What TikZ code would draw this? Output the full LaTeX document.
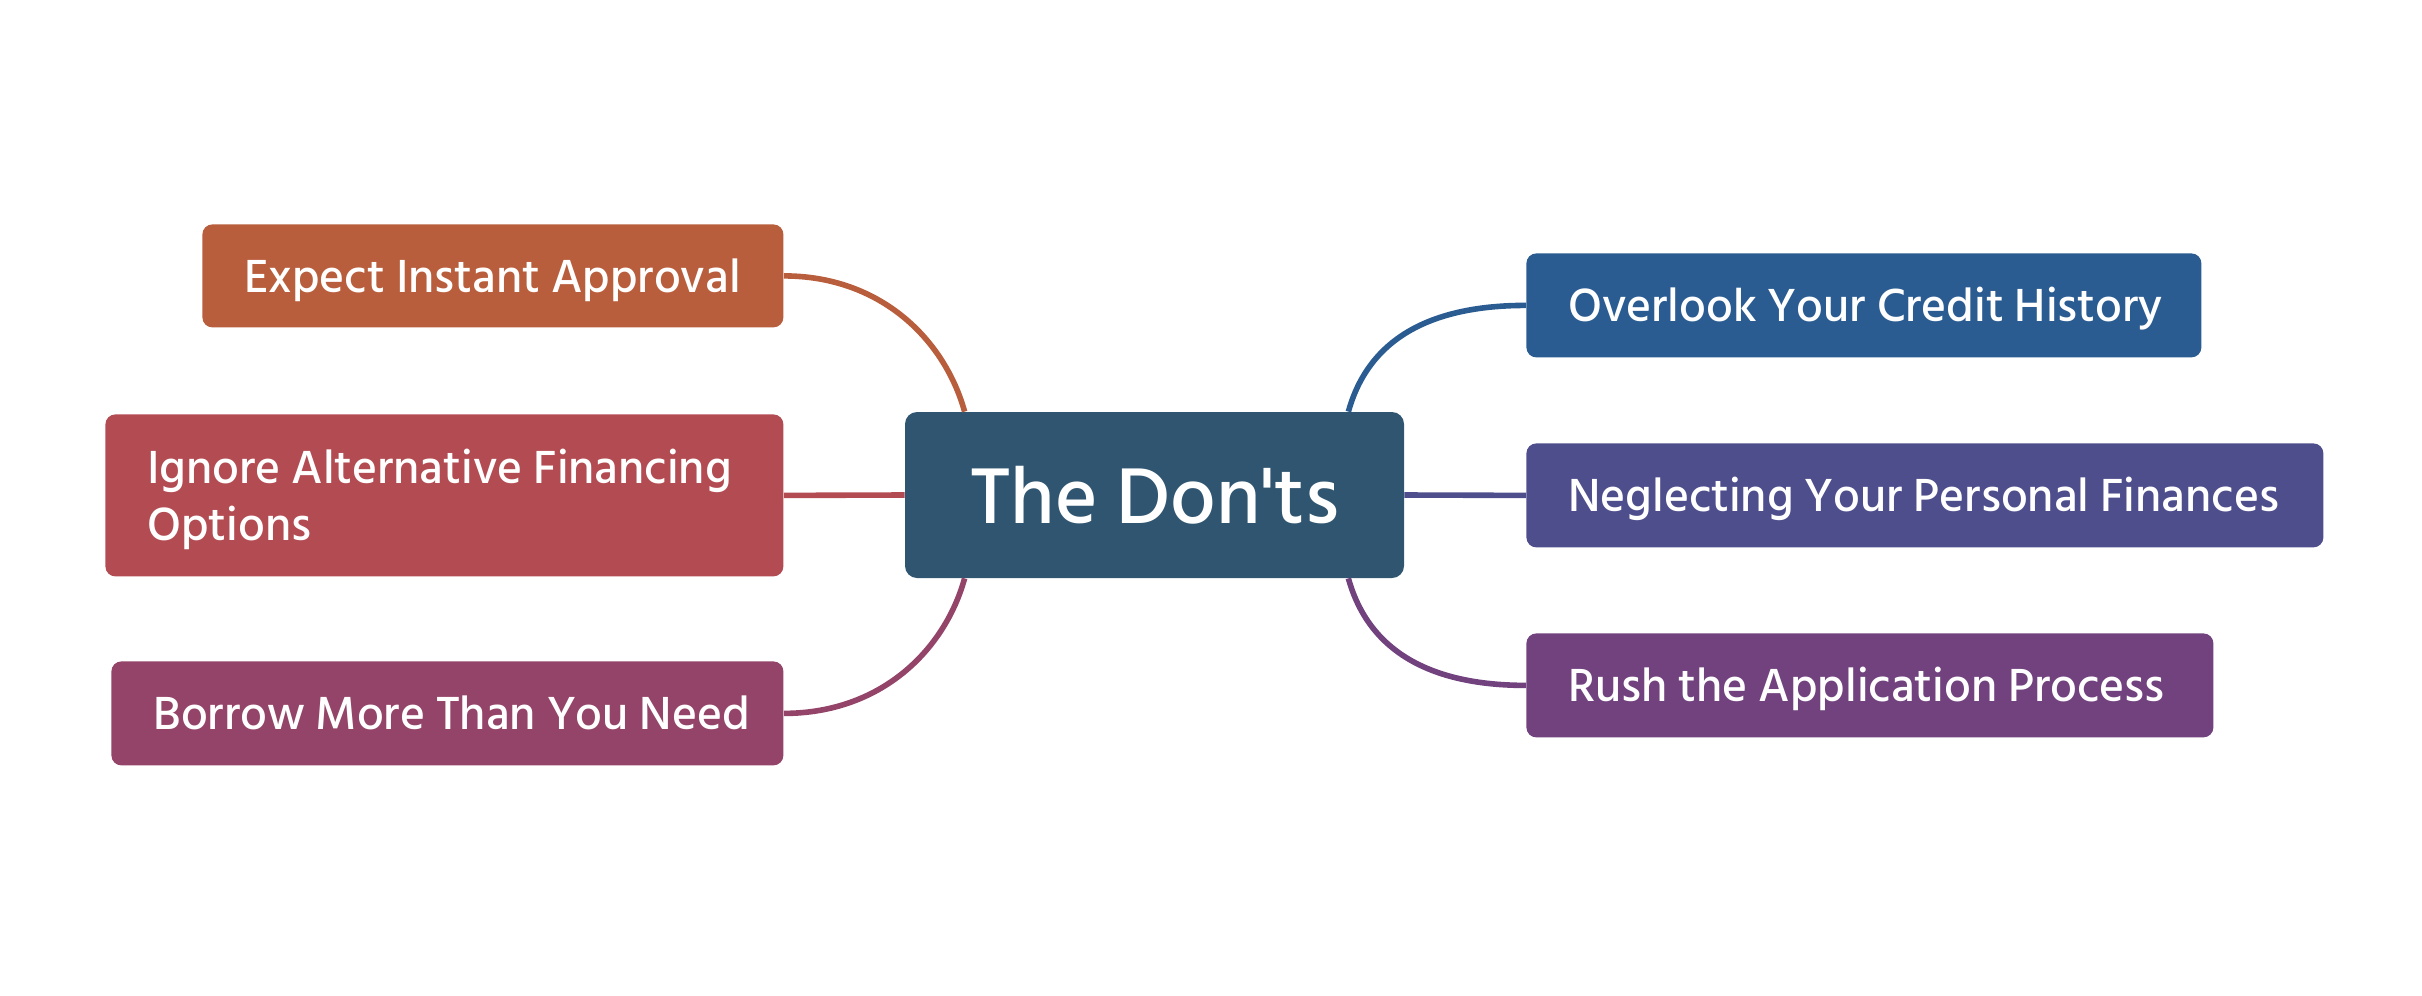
\documentclass[tikz,border=0pt]{standalone}
\usepackage{fontspec}
\setmainfont{Hind Siliguri}[UprightFont=* Medium]
\usetikzlibrary{calc}
\definecolor{cExp}{HTML}{B95E3C}
\definecolor{cIgn}{HTML}{B34C52}
\definecolor{cBor}{HTML}{944468}
\definecolor{cCen}{HTML}{2F5570}
\definecolor{cOve}{HTML}{2A5C92}
\definecolor{cNeg}{HTML}{4F4E8D}
\definecolor{cRus}{HTML}{71427E}
\tikzset{
  item/.style 2 args={rectangle, rounded corners=5pt, text=white,
    font=\fontsize{23.8}{28.5}\selectfont, inner xsep=21pt, inner ysep=0pt,
    align=left, anchor=north west, minimum width=#1*0.5pt, minimum height=#2*0.5pt,
    text width=#1*0.5pt-42pt, text height=16.4pt, text depth=0pt,
    execute at begin node={\spaceskip=0.23em\relax\xspaceskip=0.23em\relax}},
  link/.style={line width=2.8pt}
}
\begin{document}
\begin{tikzpicture}[x=0.5pt,y=-0.5pt]
\useasboundingbox (0,0) rectangle (2422,996);
% center
\node[rectangle, rounded corners=6pt, fill=cCen, text=white, font=\fontsize{40.5}{48}\selectfont,
  minimum width=249.5pt, minimum height=83pt, inner sep=0pt] (c) at (1154.5,495) {The Don\textquotesingle ts};
% left
\node[item={581}{103}, fill=cExp] (e) at (202,224) {\mbox{Expect Instant Approval}};
\node[item={678}{162}, fill=cIgn, text depth=28.5pt] (i) at (105,414) {\mbox{Ignore Alternative Financing}\\Options};
\node[item={672}{104}, fill=cBor] (b) at (111,661) {\mbox{Borrow More Than You Need}};
% right
\node[item={675}{104}, fill=cOve] (o) at (1526,253) {\mbox{Overlook Your Credit History}};
\node[item={797}{104}, fill=cNeg] (n) at (1526,443) {\mbox{Neglecting Your Personal Finances}};
\node[item={687}{104}, fill=cRus] (r) at (1526,633) {\mbox{Rush the Application Process}};
% anchor points on the central box
\coordinate (cNW) at ($(c.north west)+(60,0)$);
\coordinate (cNE) at ($(c.north east)+(-56,0)$);
\coordinate (cSW) at ($(c.south west)+(60,0)$);
\coordinate (cSE) at ($(c.south east)+(-56,0)$);
% connectors
\draw[link, cExp] (e.east) .. controls +(97,0) and +(-20,-72) .. (cNW);
\draw[link, cIgn] (i.east) -- (c.west);
\draw[link, cBor] (b.east) .. controls +(97,0) and +(-20,72) .. (cSW);
\draw[link, cOve] (o.west) .. controls +(-97,0) and +(20,-72) .. (cNE);
\draw[link, cNeg] (n.west) -- (c.east);
\draw[link, cRus] (r.west) .. controls +(-97,0) and +(20,72) .. (cSE);
\end{tikzpicture}
\end{document}
